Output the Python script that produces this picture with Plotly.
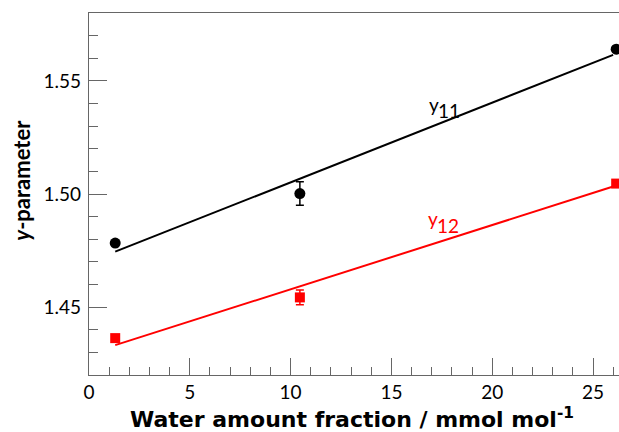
import plotly.graph_objects as go

# Data
water = [1.3, 10.46, 26.15]
y11_vals = [1.4783, 1.5002, 1.5640]
y11_err = [0.0, 0.0052, 0.0]
y12_vals = [1.4363, 1.4543, 1.5046]
y12_err = [0.0, 0.0033, 0.0]

fit_x = [1.3, 26.0]
y11_fit = [1.4745, 1.5615]
y12_fit = [1.4332, 1.5033]

x_ticks = [0, 5, 10, 15, 20, 25]
y_ticks = [1.45, 1.50, 1.55]
y_tick_text = ["1.45", "1.50", "1.55"]

FONT = "Lato, 'Open Sans', sans-serif"
AXIS_COL = "#666666"

PL, PT, PB = 89, 13, 375  # plot area in figure px
FIG_W, FIG_H = 619, 432
PW, PH = FIG_W - PL, PB - PT

fig = go.Figure()

fig.add_trace(go.Scatter(x=fit_x, y=y11_fit, mode="lines",
                         line=dict(color="black", width=2), showlegend=False))
fig.add_trace(go.Scatter(x=fit_x, y=y12_fit, mode="lines",
                         line=dict(color="#ff0000", width=2), showlegend=False))

fig.add_trace(go.Scatter(x=water, y=y11_vals, mode="markers",
                         marker=dict(symbol="circle", size=11, color="black"),
                         error_y=dict(type="data", array=y11_err, visible=True,
                                      color="black", thickness=1.5, width=4),
                         showlegend=False))
fig.add_trace(go.Scatter(x=water, y=y12_vals, mode="markers",
                         marker=dict(symbol="square", size=10, color="#ff0000"),
                         error_y=dict(type="data", array=y12_err, visible=True,
                                      color="#ff0000", thickness=1.5, width=4),
                         showlegend=False))

# labels y11 / y12
fig.add_annotation(x=17.09, y=1.5397, text="y", showarrow=False,
                   font=dict(family=FONT, size=19, color="black"))
fig.add_annotation(x=17.86, y=1.5368, text="11", showarrow=False,
                   font=dict(family=FONT, size=19, color="black"))
fig.add_annotation(x=17.06, y=1.4892, text="y", showarrow=False,
                   font=dict(family=FONT, size=19, color="#ff0000"))
fig.add_annotation(x=17.83, y=1.4860, text="12", showarrow=False,
                   font=dict(family=FONT, size=19, color="#ff0000"))

# axis titles
fig.add_annotation(xref="paper", yref="paper", x=(351.5 - PL) / PW, y=-(418 - PB) / PH,
                   xanchor="center", yanchor="middle", showarrow=False,
                   text="<b>Water amount fraction / mmol mol<sup>-1</sup></b>",
                   font=dict(family="'DejaVu Sans', sans-serif", size=22, color="black"))
fig.add_annotation(xref="paper", yref="paper", x=(20.7 - PL) / PW, y=(PB - 180) / PH,
                   xanchor="center", yanchor="middle", showarrow=False, textangle=-90,
                   text="<b><i>y</i>-parameter</b>",
                   font=dict(family=FONT, size=22, color="black"))

fig.update_layout(
    width=FIG_W, height=FIG_H,
    margin=dict(l=PL, r=0, t=PT, b=FIG_H - PB, pad=0),
    paper_bgcolor="white", plot_bgcolor="white",
    font=dict(family=FONT, size=19, color="black"),
    xaxis=dict(
        range=[0, PW / 20.16],
        tickvals=x_ticks, automargin=False,
        ticks="inside", ticklen=17, tickwidth=1.3, tickcolor=AXIS_COL,
        minor=dict(dtick=1, ticks="inside", ticklen=8, tickwidth=1.3, tickcolor=AXIS_COL),
        showline=True, linecolor=AXIS_COL, linewidth=1.3, mirror=True,
        showgrid=False, zeroline=False,
        tickfont=dict(family=FONT, size=19),
    ),
    yaxis=dict(
        range=[1.42, 1.58],
        tickvals=y_ticks, ticktext=y_tick_text, automargin=False,
        ticks="inside", ticklen=18, tickwidth=1.3, tickcolor=AXIS_COL,
        minor=dict(dtick=0.01, tick0=1.42, ticks="inside", ticklen=9, tickwidth=1.3, tickcolor=AXIS_COL),
        showline=True, linecolor=AXIS_COL, linewidth=1.3, mirror=True,
        showgrid=False, zeroline=False,
        tickfont=dict(family=FONT, size=19),
        ticklabelstandoff=3,
    ),
)

fig.write_html("out.html",
               config={"displayModeBar": False},
               post_script="document.body.style.margin='0';document.body.style.overflow='hidden';")
